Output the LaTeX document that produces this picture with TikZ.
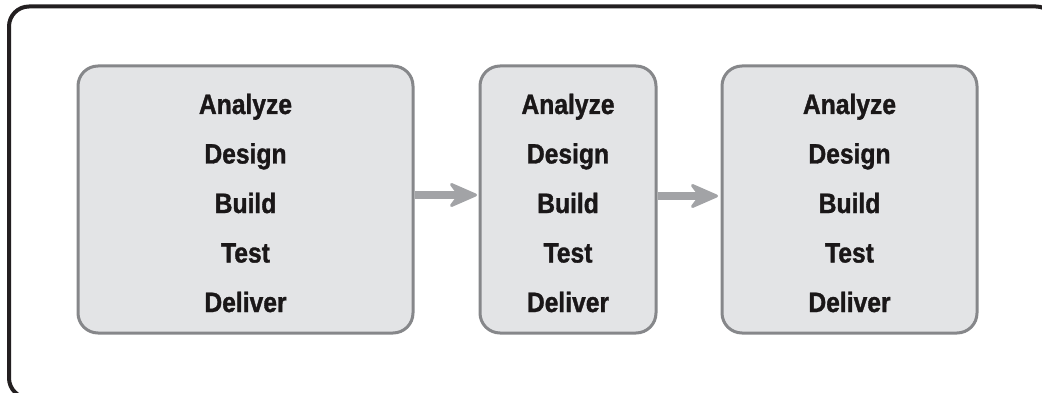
\documentclass[tikz,border=0pt]{standalone}
\usepackage{fontspec}
\setmainfont{Liberation Sans}[FakeStretch=0.88, BoldFeatures={FakeBold=1.2}]
\definecolor{framecol}{HTML}{231F20}
\definecolor{boxline}{HTML}{86878A}
\definecolor{boxfill}{HTML}{E3E4E6}
\definecolor{arrowcol}{HTML}{A2A3A6}
\definecolor{txt}{HTML}{1A1718}
\tikzset{
  stagebox/.style={draw=boxline, line width=3pt, fill=boxfill, rounded corners=20pt},
  lbl/.style={anchor=base, inner sep=0pt, font=\fontsize{28}{30}\selectfont\bfseries, text=txt},
  shaft/.style={draw=arrowcol, line width=7pt},
  headfill/.style={fill=arrowcol, draw=arrowcol, line width=3pt, line join=round},
}
\begin{document}
\begin{tikzpicture}[x=1pt,y=-1pt]
\useasboundingbox (0,0) rectangle (1042,393);
\begin{scope}
\clip (0,0) rectangle (1042,393);
\draw[framecol, line width=4pt, rounded corners=20pt] (9,6.5) rectangle (1056,398);
\end{scope}
% boxes
\draw[stagebox] (78,66) rectangle (413,333);
\draw[stagebox] (480,66) rectangle (656,333);
\draw[stagebox] (722,66) rectangle (977,333);
\coordinate (b1r) at (414.5,195);
\coordinate (t1) at (475.5,195);
\coordinate (b2r) at (657.5,196);
\coordinate (t2) at (716.5,196);
% arrow 1
\draw[shaft] (b1r) -- ([xshift=-14pt]t1);
\filldraw[headfill] (t1) -- ++(-24,-10.5) -- ++(8,10.5) -- ++(-8,10.5) -- cycle;
% arrow 2
\draw[shaft] (b2r) -- ([xshift=-14pt]t2);
\filldraw[headfill] (t2) -- ++(-24,-10.5) -- ++(8,10.5) -- ++(-8,10.5) -- cycle;
% labels
\foreach \cx/\n in {245.5/a, 568/b, 849.5/c}{
  \node[lbl] (\n1) at (\cx,114) {Analyze};
  \node[lbl] (\n2) at (\cx,163.5) {Design};
  \node[lbl] (\n3) at (\cx,213) {Build};
  \node[lbl] (\n4) at (\cx,262.5) {Test};
  \node[lbl] (\n5) at (\cx,312) {Deliver};
}
\end{tikzpicture}
\end{document}
